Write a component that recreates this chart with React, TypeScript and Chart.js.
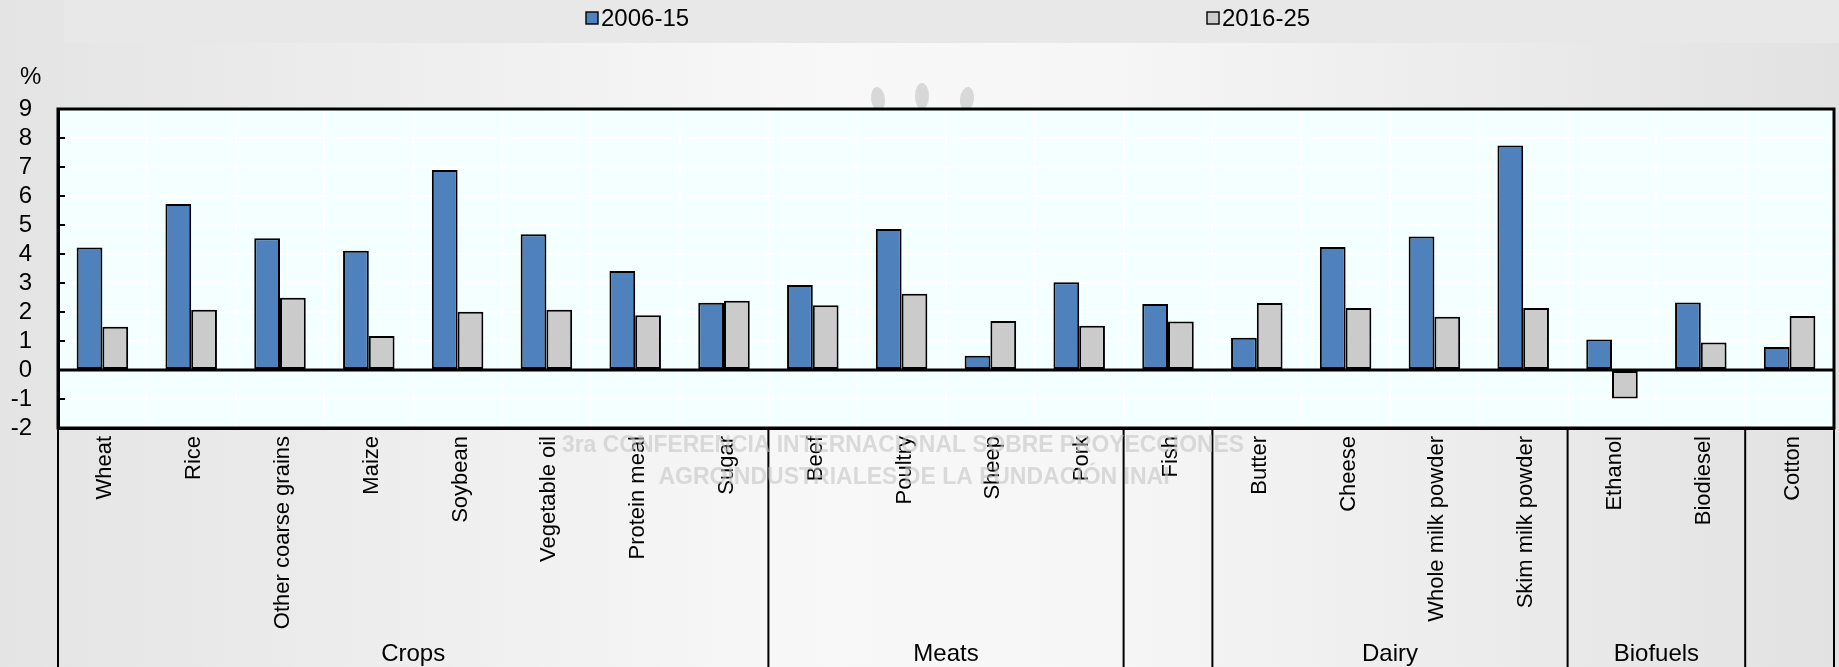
import { useEffect, useRef } from "react";
import { Chart, registerables } from "chart.js";

Chart.register(...registerables);

// Commodity categories along the x axis, in display order
const categories = [
  "Wheat", "Rice", "Other coarse grains", "Maize", "Soybean", "Vegetable oil", "Protein meal", "Sugar",
  "Beef", "Poultry", "Sheep", "Pork",
  "Fish",
  "Butter", "Cheese", "Whole milk powder", "Skim milk powder",
  "Ethanol", "Biodiesel",
  "Cotton",
];

// Commodity groups shown in the boxes under the category labels
const groupNames = ["Crops", "Meats", "", "Dairy", "Biofuels", ""];
const groupSizes = [8, 4, 1, 4, 2, 1];

// Annual growth rates, %
const seriesLabels = ["2006-15", "2016-25"];
const growth2006to15 = [4.22, 5.72, 4.54, 4.11, 6.9, 4.68, 3.41, 2.32, 2.93, 4.86, 0.49, 3.03, 2.28, 1.11, 4.24, 4.6, 7.74, 1.05, 2.33, 0.79];
const growth2016to25 = [1.49, 2.08, 2.49, 1.17, 2.01, 2.08, 1.89, 2.39, 2.23, 2.63, 1.69, 1.53, 1.67, 2.31, 2.14, 1.84, 2.14, -0.98, 0.95, 1.86];
const seriesColors = ["#4f81bd", "#cbcbcb"];

const yMin = -2;
const yMax = 9;
const yUnit = "%";

const watermarkLines = [
  "3ra CONFERENCIA INTERNACIONAL SOBRE PROYECCIONES",
  "AGROINDUSTRIALES DE LA FUNDACIÓN INAI",
];

const FONT = "'Liberation Sans', Arial, Helvetica, sans-serif";
const W = 1839;
const H = 667;

// Page background, legend band, plot fill and the faint logo
const backdropPlugin = {
  id: "backdrop",
  beforeDraw(chart: any) {
    const { ctx, chartArea: a } = chart;
    ctx.save();
    const g = ctx.createLinearGradient(0, 0, W, 0);
    g.addColorStop(0, "#e4e4e4");
    g.addColorStop(0.45, "#f8f8f8");
    g.addColorStop(0.6, "#f6f6f6");
    g.addColorStop(1, "#e2e2e2");
    ctx.fillStyle = g;
    ctx.fillRect(0, 0, W, H);

    ctx.fillStyle = "#e8e8e8";
    ctx.fillRect(64, 0, W - 64, 43);

    // logo leaves above the plot
    ctx.fillStyle = "#d8d8d8";
    const leaves = [
      [878, 99, 7, 12, -0.12],
      [922, 96, 7, 13, 0],
      [967, 99, 7, 12, 0.12],
    ];
    for (const [x, y, rx, ry, r] of leaves) {
      ctx.beginPath();
      ctx.ellipse(x, y, rx, ry, r, 0, Math.PI * 2);
      ctx.fill();
    }

    ctx.fillStyle = "#f4ffff";
    ctx.fillRect(a.left, a.top, a.right - a.left, a.bottom - a.top);
    ctx.restore();
  },
};

// Frame, inward ticks, group boxes, group names, watermark and legend
const framePlugin = {
  id: "frame",
  afterDraw(chart: any) {
    const { ctx, chartArea: a } = chart;
    const x = chart.scales.x;
    const y = chart.scales.y;
    ctx.save();

    // zero line
    ctx.strokeStyle = "#000";
    ctx.lineWidth = 3;
    ctx.beginPath();
    const y0 = y.getPixelForValue(0);
    ctx.moveTo(a.left, y0);
    ctx.lineTo(a.right, y0);
    ctx.stroke();

    // plot frame
    ctx.lineWidth = 3;
    ctx.strokeRect(a.left, a.top, a.right - a.left, a.bottom - a.top);

    // inward ticks on the value axis
    ctx.lineWidth = 2;
    for (let v = yMin; v <= yMax; v++) {
      const py = y.getPixelForValue(v);
      ctx.beginPath();
      ctx.moveTo(a.left, py);
      ctx.lineTo(a.left + 7, py);
      ctx.stroke();
    }

    // group boxes below the plot
    const half = (x.getPixelForValue(1) - x.getPixelForValue(0)) / 2;
    ctx.lineWidth = 2;
    ctx.beginPath();
    ctx.moveTo(a.left, a.bottom);
    ctx.lineTo(a.left, H);
    ctx.moveTo(a.right, a.bottom);
    ctx.lineTo(a.right, H);
    let start = 0;
    const centers: number[] = [];
    groupSizes.forEach((n, i) => {
      const first = x.getPixelForValue(start) - half;
      const last = x.getPixelForValue(start + n - 1) + half;
      centers.push((first + last) / 2);
      if (i < groupSizes.length - 1) {
        ctx.moveTo(last, a.bottom);
        ctx.lineTo(last, H);
      }
      start += n;
    });
    ctx.stroke();

    // faint watermark text
    ctx.fillStyle = "rgba(196,196,196,0.6)";
    ctx.textAlign = "center";
    ctx.textBaseline = "middle";
    ctx.font = `bold 23px ${FONT}`;
    ctx.fillText(watermarkLines[0], 903, 446, 682);
    ctx.fillText(watermarkLines[1], 914, 478, 524);

    // group names
    ctx.fillStyle = "#000";
    ctx.font = `24px ${FONT}`;
    groupNames.forEach((name, i) => {
      if (name) ctx.fillText(name, centers[i], 654);
    });

    // unit label
    ctx.textAlign = "left";
    ctx.fillText(yUnit, 20, 77);

    // legend
    const legendX = [586, 1207];
    chart.data.datasets.forEach((ds: any, i: number) => {
      ctx.fillStyle = ds.backgroundColor;
      ctx.fillRect(legendX[i], 12, 12, 12);
      ctx.strokeStyle = "#000";
      ctx.lineWidth = 1.4;
      ctx.strokeRect(legendX[i], 12, 12, 12);
      ctx.fillStyle = "#000";
      ctx.textAlign = "left";
      ctx.font = `24px ${FONT}`;
      ctx.fillText(ds.label, legendX[i] + 15, 19);
    });

    ctx.restore();
  },
};

export default function App() {
  const ref = useRef<HTMLCanvasElement | null>(null);

  useEffect(() => {
    if (!ref.current) return;
    const chart = new Chart(ref.current, {
      type: "bar",
      data: {
        labels: categories,
        datasets: [
          {
            label: seriesLabels[0],
            data: growth2006to15,
            backgroundColor: seriesColors[0],
            borderColor: "#000",
            borderWidth: 2,
            borderSkipped: false,
            categoryPercentage: 0.58,
            barPercentage: 1,
          },
          {
            label: seriesLabels[1],
            data: growth2016to25,
            backgroundColor: seriesColors[1],
            borderColor: "#000",
            borderWidth: 2,
            borderSkipped: false,
            categoryPercentage: 0.58,
            barPercentage: 1,
          },
        ],
      },
      options: {
        responsive: false,
        animation: false,
        layout: { padding: { top: 109, right: 5, left: 0, bottom: 0 } },
        plugins: {
          legend: { display: false },
          tooltip: { enabled: false },
        },
        scales: {
          x: {
            afterFit: (s: any) => {
              s.height = 239;
            },
            grid: { color: "#ffffff", lineWidth: 2, drawTicks: false, offset: true },
            border: { display: true, color: "#000", width: 3 },
            ticks: {
              autoSkip: false,
              minRotation: 90,
              maxRotation: 90,
              padding: 8,
              labelOffset: 3,
              color: "#000",
              font: { family: FONT, size: 22 },
            },
          },
          y: {
            min: yMin,
            max: yMax,
            afterFit: (s: any) => {
              s.width = 58;
            },
            grid: { color: "#ffffff", lineWidth: 2, drawTicks: false },
            border: { display: true, color: "#000", width: 3 },
            ticks: {
              stepSize: 1,
              autoSkip: false,
              padding: 26,
              color: "#000",
              font: { family: FONT, size: 24 },
            },
          },
        },
      },
      plugins: [backdropPlugin, framePlugin],
    });
    return () => chart.destroy();
  }, []);

  return (
    <div style={{ position: "absolute", left: 0, top: 0, width: W, height: H }}>
      <canvas ref={ref} width={W} height={H} style={{ display: "block" }} />
    </div>
  );
}
